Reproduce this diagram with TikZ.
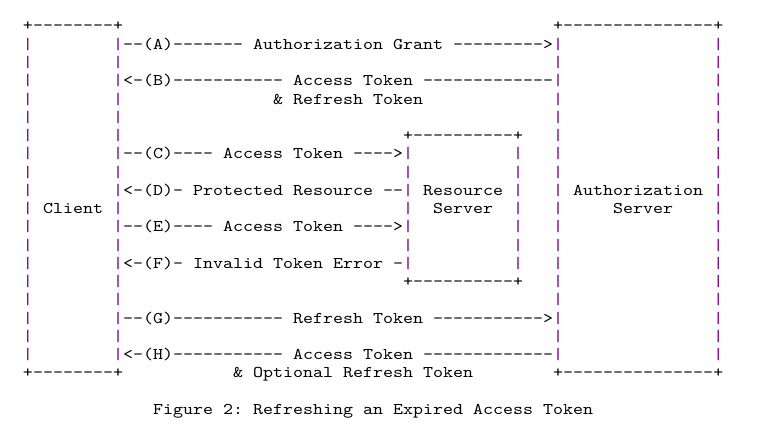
\documentclass[tikz,border=0pt]{standalone}
\usepackage{fontspec}
% typewriter face for the character drawing, widened to a 10pt cell
\setmonofont{lmmono10-regular.otf}[FakeStretch=1.164]
\definecolor{boxpurple}{RGB}{128,0,128}
\newcommand\pb{\textcolor{boxpurple}{|}}
\newcommand\gap[1]{\kern#1\fontcharwd\font`M\relax}
\tikzset{
  artrow/.style={anchor=base west, inner sep=0pt, outer sep=0pt,
    font=\ttfamily\fontsize{16.37pt}{18.25pt}\selectfont, text=black}
}
\begin{document}
\begin{tikzpicture}[x=1pt,y=1pt]
\useasboundingbox (0,0) rectangle (758,-428);
\node[artrow] (r0)  at (23,-31)     {+--------+\gap{43}+---------------+};
\node[artrow] (r1)  at (23,-49.25)  {\pb\gap{8}\pb--(A)-------\gap{1}Authorization\gap{1}Grant\gap{1}--------->\pb\gap{15}\pb};
\node[artrow] (r2)  at (23,-67.5)   {\pb\gap{8}\pb\gap{43}\pb\gap{15}\pb};
\node[artrow] (r3)  at (23,-85.75)  {\pb\gap{8}\pb<-(B)-----------\gap{1}Access\gap{1}Token\gap{1}-------------\pb\gap{15}\pb};
\node[artrow] (r4)  at (23,-104)    {\pb\gap{8}\pb\gap{15}\&\gap{1}Refresh\gap{1}Token\gap{13}\pb\gap{15}\pb};
\node[artrow] (r5)  at (23,-122.25) {\pb\gap{8}\pb\gap{43}\pb\gap{15}\pb};
\node[artrow] (r6)  at (23,-140.5)  {\pb\gap{8}\pb\gap{28}+----------+\gap{3}\pb\gap{15}\pb};
\node[artrow] (r7)  at (23,-158.75) {\pb\gap{8}\pb--(C)----\gap{1}Access\gap{1}Token\gap{1}---->\pb\gap{10}\pb\gap{3}\pb\gap{15}\pb};
\node[artrow] (r8)  at (23,-177)    {\pb\gap{8}\pb\gap{28}\pb\gap{10}\pb\gap{3}\pb\gap{15}\pb};
\node[artrow] (r9)  at (23,-195.25) {\pb\gap{8}\pb<-(D)-\gap{1}Protected\gap{1}Resource\gap{1}--\pb\gap{1}Resource\gap{1}\pb\gap{3}\pb\gap{1}Authorization\gap{1}\pb};
\node[artrow] (r10) at (23,-213.5)  {\pb\gap{1}Client\gap{1}\pb\gap{28}\pb\gap{2}Server\gap{2}\pb\gap{3}\pb\gap{5}Server\gap{4}\pb};
\node[artrow] (r11) at (23,-231.75) {\pb\gap{8}\pb--(E)----\gap{1}Access\gap{1}Token\gap{1}---->\pb\gap{10}\pb\gap{3}\pb\gap{15}\pb};
\node[artrow] (r12) at (23,-250)    {\pb\gap{8}\pb\gap{28}\pb\gap{10}\pb\gap{3}\pb\gap{15}\pb};
\node[artrow] (r13) at (23,-268.25) {\pb\gap{8}\pb<-(F)-\gap{1}Invalid\gap{1}Token\gap{1}Error\gap{1}-\pb\gap{10}\pb\gap{3}\pb\gap{15}\pb};
\node[artrow] (r14) at (23,-286.5)  {\pb\gap{8}\pb\gap{28}+----------+\gap{3}\pb\gap{15}\pb};
\node[artrow] (r15) at (23,-304.75) {\pb\gap{8}\pb\gap{43}\pb\gap{15}\pb};
\node[artrow] (r16) at (23,-323)    {\pb\gap{8}\pb--(G)-----------\gap{1}Refresh\gap{1}Token\gap{1}----------->\pb\gap{15}\pb};
\node[artrow] (r17) at (23,-341.25) {\pb\gap{8}\pb\gap{43}\pb\gap{15}\pb};
\node[artrow] (r18) at (23,-359.5)  {\pb\gap{8}\pb<-(H)-----------\gap{1}Access\gap{1}Token\gap{1}-------------\pb\gap{15}\pb};
\node[artrow] (r19) at (23,-377.75) {+--------+\gap{11}\&\gap{1}Optional\gap{1}Refresh\gap{1}Token\gap{8}+---------------+};
\node[artrow] (caption) at (153,-414.25) {Figure\gap{1}2:\gap{1}Refreshing\gap{1}an\gap{1}Expired\gap{1}Access\gap{1}Token};
\end{tikzpicture}
\end{document}
